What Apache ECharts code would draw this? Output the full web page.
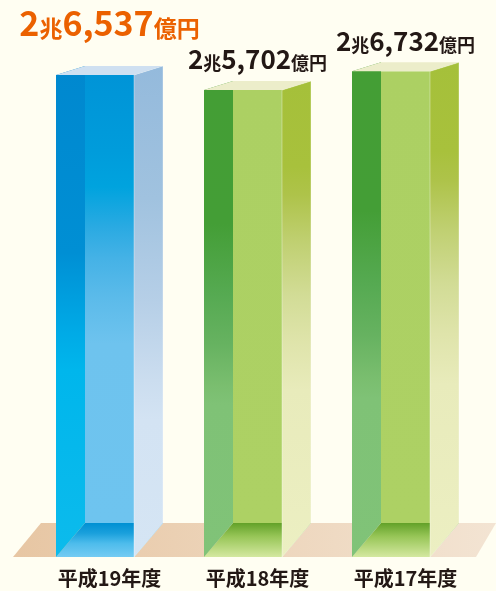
<!DOCTYPE html>
<html><head><meta charset="utf-8">
<script src="https://cdn.jsdelivr.net/npm/echarts@6/dist/echarts.min.js"></script>
<style>html,body{margin:0;padding:0;background:#fffef2;}#c{width:496px;height:591px;}</style>
</head><body><div id="c"></div>
<script>
const categories = ['平成19年度', '平成18年度', '平成17年度'];
const values = [26537, 25702, 26732];
const highlightIndex = 0;

const FONT = '"Noto Sans CJK JP", "Noto Sans", sans-serif';
const lg = (stops) => new echarts.graphic.LinearGradient(0, 0, 0, 1, stops.map(([o, c]) => ({ offset: o, color: c })));

const palettes = {
  blue: {
    left: [[0, '#0088cf'], [0.38, '#008fd4'], [0.54, '#00aae6'], [0.62, '#00b6ec'], [1, '#0cbbec']],
    mid: [[0, '#0094d7'], [0.17, '#009cdb'], [0.25, '#00a3de'], [0.34, '#2aaae2'], [0.41, '#45b2e6'], [0.5, '#5cbbea'], [0.6, '#6ec3ee'], [1, '#6ec4ef']],
    right: [[0, '#94badc'], [0.27, '#a0c2df'], [0.48, '#b6cfe7'], [0.64, '#cbddef'], [0.72, '#d3e3f3'], [1, '#d5e5f4']],
    bottom: [[0, '#0090d3'], [0.3, '#1aa0dc'], [0.6, '#4dbcec'], [1, '#74cbf3']],
    top: '#cfe0f1'
  },
  green: {
    left: [[0, '#449e35'], [0.3, '#449e36'], [0.45, '#56aa52'], [0.55, '#66b260'], [0.64, '#7abe6f'], [0.68, '#7fc276'], [1, '#80c378']],
    mid: [[0, '#acd063'], [1, '#add164']],
    right: [[0, '#a5c03a'], [0.18, '#a8c13c'], [0.24, '#aec34a'], [0.34, '#c0d072'], [0.45, '#d2dc96'], [0.55, '#dfe4ab'], [0.65, '#e8ebbb'], [1, '#ecefc2']],
    bottom: [[0, '#62a128'], [0.4, '#98c658'], [1, '#d4e8a0']],
    top: '#ecedca'
  }
};

function labelRich(v) {
  const cho = Math.floor(v / 10000);
  const oku = (v % 10000).toLocaleString('en-US');
  return '{n|' + cho + '}{k|兆}{n|' + oku + '}{k|億円}';
}

function renderItem(params, api) {
  const i = api.value(0), v = api.value(1);
  const top = api.coord([i, v]);
  const base = api.coord([i, 0]);
  const cx = top[0], yT = top[1], yB = base[1];
  const hl = i === highlightIndex;
  const p = hl ? palettes.blue : palettes.green;
  const fl = cx - 53.5, fr = cx + 24.5, bl = cx - 24.5, br = cx + 53.5;
  const dTop = 9, dBot = 34;
  const children = [
    { type: 'polygon', shape: { points: [[bl, yT], [fr, yT], [fr, yB - dBot], [bl, yB - dBot]] }, style: { fill: lg(p.mid) } },
    { type: 'polygon', shape: { points: [[fl, yB], [bl, yB - dBot], [br, yB - dBot], [fr, yB]] }, style: { fill: lg(p.bottom) } },
    { type: 'polygon', shape: { points: [[fl, yT], [bl, yT - dTop], [bl, yB - dBot], [fl, yB]] }, style: { fill: lg(p.left) } },
    { type: 'polygon', shape: { points: [[fr, yT], [br, yT - dTop], [br, yB - dBot], [fr, yB]] }, style: { fill: lg(p.right), stroke: 'rgba(255,255,255,0.35)', lineWidth: 1 } },
    { type: 'polygon', shape: { points: [[fl, yT], [bl, yT - dTop], [br, yT - dTop], [fr, yT]] }, style: { fill: p.top } }
  ];
  const col = hl ? '#eb6100' : '#231815';
  const rich = hl ? {
    n: { fontSize: 34, fontWeight: 'bold', fontFamily: FONT, fill: col, lineHeight: 34, verticalAlign: 'bottom' },
    k: { fontSize: 23, fontWeight: 'bold', fontFamily: FONT, fill: col, lineHeight: 29, verticalAlign: 'bottom' }
  } : {
    n: { fontSize: 26, fontWeight: 'bold', fontFamily: FONT, fill: col, lineHeight: 26, verticalAlign: 'bottom' },
    k: { fontSize: 18, fontWeight: 'bold', fontFamily: FONT, fill: col, lineHeight: 22, verticalAlign: 'bottom' }
  };
  children.push({
    type: 'text', x: cx, y: hl ? yT - 35 : yT - 17.5,
    style: { text: labelRich(v), rich: rich, fill: col, align: 'center', verticalAlign: 'bottom' }
  });
  return { type: 'group', children: children };
}

const chart = echarts.init(document.getElementById('c'), null, { renderer: 'canvas' });
chart.setOption({
  backgroundColor: '#fffef2',
  animation: false,
  grid: { left: 35.5, right: 16.5, top: 12, bottom: 34 },
  xAxis: {
    type: 'category', data: categories,
    axisLine: { show: false }, axisTick: { show: false },
    axisLabel: { margin: 11.5, fontSize: 20, fontWeight: 'bold', fontFamily: FONT, color: '#231815', lineHeight: 20 }
  },
  yAxis: { type: 'value', min: 0, max: 30000, show: false, splitLine: { show: false } },
  graphic: [{
    type: 'polygon', z: -10,
    shape: { points: [[13, 557], [41, 523], [496, 523], [476, 557]] },
    style: { fill: new echarts.graphic.LinearGradient(0, 0, 1, 0, [{ offset: 0, color: '#e7c6a3' }, { offset: 1, color: '#f3e4d3' }]) }
  }],
  series: [{
    type: 'custom', z: 5, clip: false,
    renderItem: renderItem,
    encode: { x: 0, y: 1 },
    data: values.map((v, i) => [i, v])
  }]
});
</script></body></html>
